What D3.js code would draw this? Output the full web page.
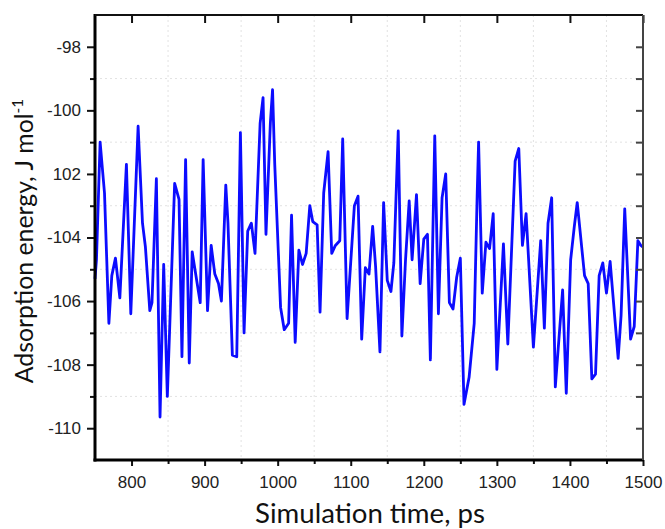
<!DOCTYPE html>
<html><head><meta charset="utf-8">
<script src="https://cdn.jsdelivr.net/npm/d3@7"></script>
<style>html,body{margin:0;padding:0;background:#fff;}svg{display:block;}</style>
</head><body>
<svg id="chart" width="665" height="529"></svg>
<script>
const times = [750,752,757,763,769,773,778,784,793,799,809,815,819,825,828,834,839,844,849,859,865,869,874,879,883,894,898,904,909,914,919,923,929,932,938,944,949,954,959,964,969,976,980,984,990,993,996,1004,1009,1015,1019,1024,1029,1034,1039,1044,1048,1054,1058,1063,1069,1074,1079,1085,1089,1095,1105,1110,1115,1120,1125,1130,1134,1140,1145,1150,1155,1159,1165,1170,1175,1180,1184,1190,1195,1200,1205,1209,1215,1220,1225,1230,1235,1240,1245,1250,1255,1262,1269,1273,1275,1280,1285,1290,1295,1300,1309,1315,1325,1330,1335,1340,1350,1360,1365,1370,1375,1380,1390,1395,1401,1406,1410,1420,1425,1430,1435,1440,1445,1450,1455,1466,1470,1475,1483,1488,1493,1497,1500];
const energies = [-105.3,-104.7,-101.0,-102.6,-106.7,-105.2,-104.65,-105.9,-101.7,-106.4,-100.5,-103.55,-104.3,-106.3,-106.05,-102.15,-109.65,-104.85,-109.0,-102.3,-102.8,-107.75,-101.55,-107.95,-104.45,-106.05,-101.55,-106.3,-104.25,-105.15,-105.45,-106.0,-102.35,-103.55,-107.7,-107.75,-100.7,-107.0,-103.8,-103.55,-104.5,-100.4,-99.6,-103.9,-100.4,-99.35,-101.7,-106.2,-106.9,-106.7,-103.3,-107.3,-104.4,-104.85,-104.5,-103.0,-103.5,-103.6,-106.35,-102.6,-101.3,-104.5,-104.25,-104.1,-100.9,-106.55,-103.0,-102.7,-107.2,-104.95,-105.15,-103.65,-104.9,-107.6,-102.9,-105.35,-105.7,-104.8,-100.65,-107.1,-104.7,-102.85,-104.7,-102.65,-105.45,-104.05,-103.9,-107.85,-100.8,-106.4,-102.75,-102.0,-106.05,-106.25,-105.25,-104.65,-109.25,-108.4,-106.7,-102.7,-101.0,-105.75,-104.15,-104.35,-103.25,-108.15,-104.2,-107.35,-101.6,-101.2,-104.25,-103.25,-107.45,-104.1,-106.85,-103.55,-102.75,-108.7,-105.65,-108.9,-104.7,-103.65,-102.9,-105.2,-105.45,-108.45,-108.3,-105.2,-104.8,-105.75,-104.75,-107.8,-106.45,-103.1,-107.2,-106.8,-104.1,-104.25,-104.3];
const xTicks = [800,900,1000,1100,1200,1300,1400,1500];
const xMinorTicks = [850,950,1050,1150,1250,1350,1450];
const yTicks = [-98,-100,-102,-104,-106,-108,-110];
const yTickLabels = ["-98","-100","102","-104","-106","-108","-110"];
const yMinorTicks = [-99,-101,-103,-105,-107,-109];
const xTitle = "Simulation time, ps";
const yTitle = "Adsorption energy, J mol";
const yTitleSup = "-1";

const svg = d3.select("#chart");
const L = 95, R = 643, T = 15, B = 460;
const x = d3.scaleLinear().domain([750,1500]).range([L,R]);
const y = d3.scaleLinear().domain([-111,-97]).range([B,T]);

// grid
const grid = svg.append("g").attr("stroke","#e2e2e2").attr("stroke-width",1).attr("stroke-dasharray","2,3");
xMinorTicks.forEach(t=>grid.append("line").attr("x1",x(t)).attr("x2",x(t)).attr("y1",T).attr("y2",B));
yMinorTicks.forEach(v=>grid.append("line").attr("x1",L).attr("x2",R).attr("y1",y(v)).attr("y2",y(v)));

// line
const data = times.map((t,i)=>({t, v: energies[i]}));
svg.append("path").datum(data)
  .attr("fill","none").attr("stroke","#0c0cff").attr("stroke-width",2.8).attr("stroke-linejoin","round")
  .attr("d", d3.line().x(d=>x(d.t)).y(d=>y(d.v)));

const font = "'Liberation Sans', Arial, sans-serif";
// bottom axis
const gB = svg.append("g").attr("transform",`translate(0,${B})`)
  .call(d3.axisBottom(x).tickValues(xTicks).tickSize(6).tickSizeOuter(0).tickFormat(d3.format("d")));
gB.append("g").call(d3.axisBottom(x).tickValues(xMinorTicks).tickSize(4).tickSizeOuter(0).tickFormat(""));
// left axis
const gL = svg.append("g").attr("transform",`translate(${L},0)`)
  .call(d3.axisLeft(y).tickValues(yTicks).tickSize(8).tickSizeOuter(0).tickFormat((d,i)=>yTickLabels[i]));
gL.append("g").call(d3.axisLeft(y).tickValues(yMinorTicks).tickSize(5).tickSizeOuter(0).tickFormat(""));
// top axis (inward)
const gT = svg.append("g").attr("transform",`translate(0,${T})`)
  .call(d3.axisBottom(x).tickValues(xTicks).tickSize(8).tickSizeOuter(0).tickFormat(""));
// right axis (inward)
const gR = svg.append("g").attr("transform",`translate(${R},0)`)
  .call(d3.axisLeft(y).tickValues(d3.range(-110,-97,1)).tickSize(7).tickSizeOuter(0).tickFormat(""));

[gB,gL,gT,gR].forEach(g=>{
  g.selectAll("path.domain").remove();
  g.selectAll("line").attr("stroke","#111").attr("stroke-width",2);
  g.selectAll("text").attr("font-family",font).attr("font-size",17).attr("fill","#222");
});
gR.selectAll("line").attr("stroke","#444");
gB.selectAll("text").attr("dy",null).attr("y",28);
gL.selectAll("text").attr("x",-14);

// frame
svg.append("line").attr("x1",L).attr("x2",L).attr("y1",T-1).attr("y2",B+1.5).attr("stroke","#000").attr("stroke-width",3);
svg.append("line").attr("x1",L-1.5).attr("x2",R+1).attr("y1",B).attr("y2",B).attr("stroke","#000").attr("stroke-width",3);
svg.append("line").attr("x1",L).attr("x2",R).attr("y1",T).attr("y2",T).attr("stroke","#111").attr("stroke-width",2);
svg.append("line").attr("x1",R).attr("x2",R).attr("y1",T).attr("y2",B).attr("stroke","#444").attr("stroke-width",2);

// titles, font size fitted to the reference text widths
const tFont = "Lato, 'Open Sans', sans-serif";
const xt = svg.append("text").attr("x",370).attr("y",523).attr("text-anchor","middle")
  .attr("font-family",tFont).attr("font-size",20).attr("fill","#111").text(xTitle);
const xw = xt.node().getComputedTextLength();
xt.attr("font-size", 20*230/xw);

const yt = svg.append("text").attr("transform","translate(33,241) rotate(-90)").attr("text-anchor","middle")
  .attr("font-family",tFont).attr("fill","#111");
const ym = yt.append("tspan").attr("font-size",20).text(yTitle);
const ys = yt.append("tspan").attr("font-size",13).attr("dy",-9).text(yTitleSup);
const yw = ym.node().getComputedTextLength();
const yfs = 20*270/yw;
ym.attr("font-size", yfs);
ys.attr("font-size", yfs*0.62).attr("dy", -yfs*0.42);
</script>
</body></html>
